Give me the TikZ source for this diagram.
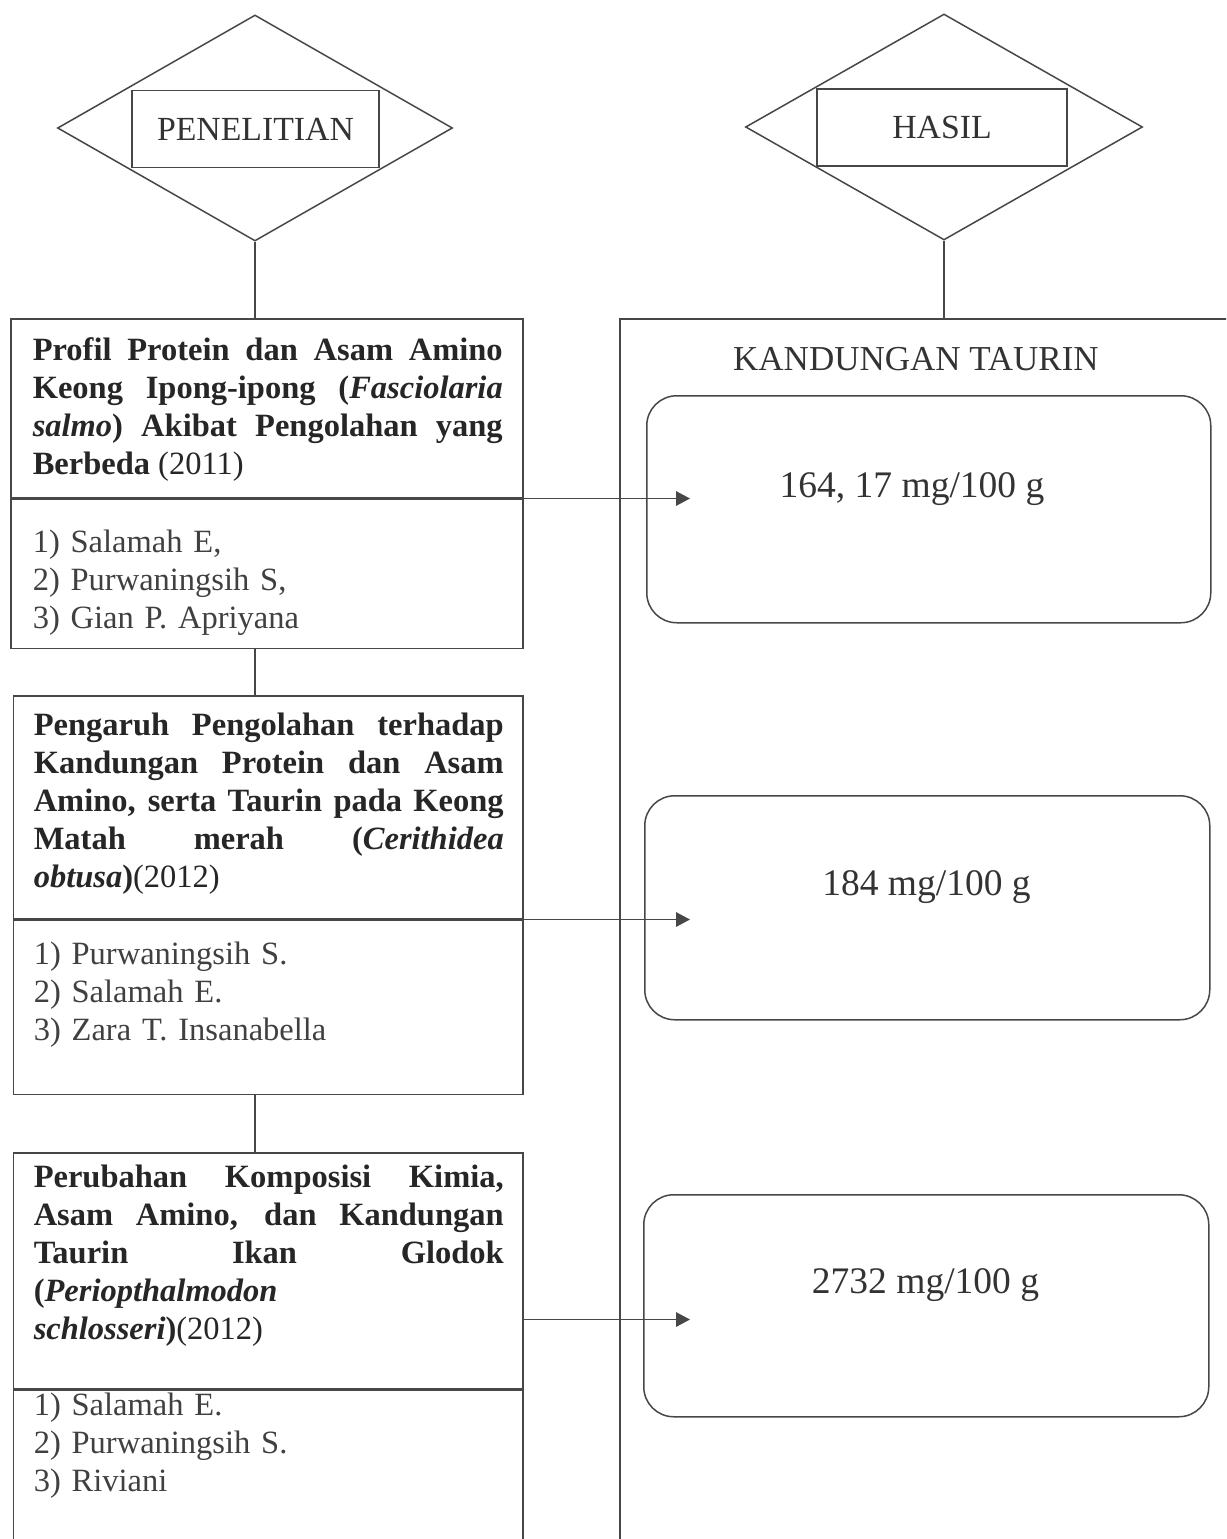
\documentclass[tikz,border=0pt]{standalone}
\usepackage{fontspec}
\setmainfont{Liberation Serif}
\usetikzlibrary{shapes.geometric,arrows.meta,calc}

\begin{document}
\begin{tikzpicture}
[x=0.4pt, y=-0.4pt, color=black!72, line width=0.6pt,
panel/.style={draw, rectangle, inner sep=0pt, anchor=north west},
title text/.style={anchor=base west, text width=188pt, align=justify, inner sep=0pt, text=black!85, font=\fontsize{13}{15.2}\selectfont\bfseries},
author text/.style={anchor=base west, text width=188pt, align=left, inner sep=0pt, text=black!75, font=\fontsize{13}{15.2}\selectfont},
result box/.style={draw, rectangle, rounded corners=12pt, inner sep=0pt, anchor=north west},
result text/.style={anchor=base, inner sep=0pt, text=black!80, font=\fontsize{15}{18}\selectfont},
header/.style={draw, diamond, inner sep=0pt},
header label/.style={draw, rectangle, inner sep=0pt, text=black!80, font=\fontsize{13.5}{16}\selectfont},
arrow line/.style={-{Triangle[length=5.6pt, width=5.8pt]}}]
\useasboundingbox (0,0) rectangle (1226,1539);
\clip (0,0) rectangle (1226,1539);
\node[header, minimum width=158pt, minimum height=90.4pt] (kepala1) at (255,128) {};
\node[header, minimum width=158.8pt, minimum height=90.4pt] (kepala2) at (944,127) {};
\node[header label, minimum width=98.8pt, minimum height=30.8pt] (label1) at (255.5,129) {PENELITIAN};
\node[header label, minimum width=100pt, minimum height=30.8pt] (label2) at (942,127.5) {HASIL};
\node[panel, minimum width=204.8pt, minimum height=71.6pt] (judul1) at (10,318) {};
\node[panel, minimum width=204.8pt, minimum height=59.6pt] (penulis1) at (judul1.south west) {};
\node[panel, minimum width=203.8pt, minimum height=89.2pt] (judul2) at (12.5,695) {};
\node[panel, minimum width=203.8pt, minimum height=69.6pt] (penulis2) at (judul2.south west) {};
\node[panel, minimum width=203.8pt, minimum height=94.4pt] (judul3) at (12.5,1152) {};
\node[panel, minimum width=203.8pt, minimum height=68.8pt] (penulis3) at (judul3.south west) {};
\node[title text] (teks1) at (32,360) {Profil Protein dan Asam Amino\linebreak Keong Ipong-ipong (\textit{Fasciolaria}\linebreak \textit{salmo}) Akibat Pengolahan yang\linebreak Berbeda {\mdseries(2011)}};
\node[title text] (teks2) at (33,735) {Pengaruh Pengolahan terhadap\linebreak Kandungan Protein dan Asam\linebreak Amino, serta Taurin pada Keong\linebreak Matah merah (\textit{Cerithidea}\linebreak \textit{obtusa}){\mdseries(2012)}};
\node[title text] (teks3) at (33,1187) {Perubahan Komposisi Kimia,\linebreak Asam Amino, dan Kandungan\linebreak Taurin Ikan Glodok\linebreak (\textit{Periopthalmodon}\newline \textit{schlosseri}){\mdseries(2012)}};
\node[author text] (nama1) at (32,552) {1) Salamah E,\\ 2) Purwaningsih S,\\ 3) Gian P. Apriyana};
\node[author text] (nama2) at (33,964) {1) Purwaningsih S.\\ 2) Salamah E.\\ 3) Zara T. Insanabella};
\node[author text] (nama3) at (33,1415) {1) Salamah E.\\ 2) Purwaningsih S.\\ 3) Riviani};
\node[panel, minimum width=252.4pt, minimum height=496.8pt] (kolom) at (619,318) {};
\node[result text, font=\fontsize{14}{17}\selectfont] (kepalakolom) at (916,370) {KANDUNGAN TAURIN};
\node[result box, minimum width=225.6pt, minimum height=90.8pt] (hasil1) at (646,395) {};
\node[result box, minimum width=226pt, minimum height=89.6pt] (hasil2) at (644,795) {};
\node[result box, minimum width=226pt, minimum height=88.8pt] (hasil3) at (643,1194) {};
\node[result text] (nilai1) at (912,497) {164, 17 mg/100 g};
\node[result text] (nilai2) at (926.5,895) {184 mg/100 g};
\node[result text] (nilai3) at (925.5,1293) {2732 mg/100 g};
\draw (kepala1.south) -- (kepala1.south |- judul1.north);
\draw (kepala1.south |- penulis1.south) -- (kepala1.south |- judul2.north);
\draw (kepala1.south |- penulis2.south) -- (kepala1.south |- judul3.north);
\draw (kepala2.south) -- (kepala2.south |- kolom.north);
\draw[arrow line] (judul1.south west) -- ($(judul1.south west -| hasil1.west)+(44,0)$);
\draw[arrow line] (judul2.south west) -- ($(judul2.south west -| hasil2.west)+(46,0)$);
\draw[arrow line] ($(judul3.south east)+(0,-70)$) -- ($(judul3.south east -| hasil3.west)+(47,-70)$);
\end{tikzpicture}
\end{document}
